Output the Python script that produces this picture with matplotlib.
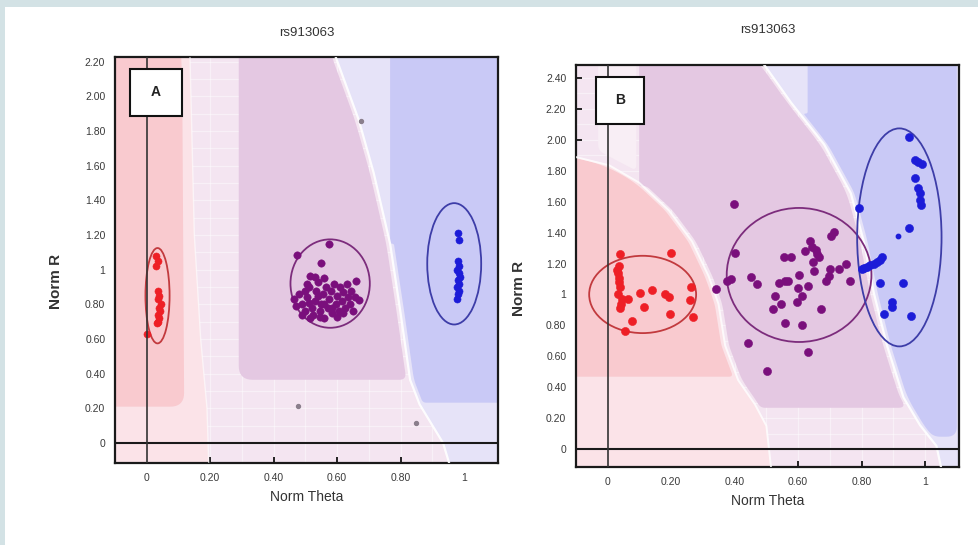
import numpy as np
import matplotlib.pyplot as plt
from matplotlib.patches import Ellipse, Polygon, Rectangle

# ---- data ----
title = "rs913063"

# panel A
a_red_x = [0.030, 0.034, 0.028, 0.036, 0.040, 0.035, 0.044, 0.038, 0.041, 0.036, 0.040, 0.035, 0.032, 0.002]
a_red_y = [1.08, 1.05, 1.02, 0.88, 0.85, 0.83, 0.80, 0.78, 0.76, 0.74, 0.72, 0.70, 0.69, 0.63]

a_pur_x = [0.474, 0.575, 0.549, 0.660, 0.668, 0.465, 0.480, 0.490, 0.500, 0.505, 0.510, 0.516,
           0.520, 0.525, 0.530, 0.535, 0.540, 0.545, 0.550, 0.555, 0.560, 0.565, 0.570, 0.575,
           0.580, 0.585, 0.590, 0.595, 0.600, 0.605, 0.610, 0.615, 0.620, 0.625, 0.630, 0.635,
           0.640, 0.645, 0.650, 0.655, 0.500, 0.530, 0.560, 0.490, 0.515, 0.545, 0.470, 0.600,
           0.585, 0.510, 0.620, 0.560, 0.540, 0.505]
a_pur_y = [1.084, 1.150, 1.036, 0.937, 0.828, 0.830, 0.860, 0.800, 0.760, 0.840, 0.900, 0.966,
           0.780, 0.740, 0.820, 0.880, 0.930, 0.760, 0.800, 0.860, 0.720, 0.900, 0.780, 0.830,
           0.880, 0.750, 0.920, 0.800, 0.850, 0.760, 0.900, 0.820, 0.870, 0.780, 0.920, 0.840,
           0.800, 0.880, 0.760, 0.840, 0.880, 0.960, 0.950, 0.740, 0.720, 0.730, 0.790, 0.730,
           0.780, 0.810, 0.750, 0.800, 0.850, 0.920]

a_blu_x = [0.982, 0.984, 0.980, 0.985, 0.978, 0.983, 0.986, 0.980, 0.984, 0.979, 0.983, 0.981, 0.978]
a_blu_y = [1.21, 1.17, 1.05, 1.02, 1.00, 0.98, 0.96, 0.94, 0.92, 0.90, 0.88, 0.86, 0.83]

a_grey_x = [0.676, 0.478, 0.848]
a_grey_y = [1.86, 0.213, 0.113]

# ellipses: centre x, centre y, width, height
a_ell_red = (0.034, 0.85, 0.076, 0.55)
a_ell_pur = (0.578, 0.92, 0.250, 0.51)
a_ell_blu = (0.969, 1.034, 0.170, 0.70)

# panel B
b_red_x = [0.040, 0.034, 0.031, 0.036, 0.040, 0.033, 0.042, 0.040, 0.063, 0.055, 0.078, 0.101,
           0.115, 0.138, 0.198, 0.180, 0.193, 0.196, 0.263, 0.260, 0.269, 0.030, 0.035, 0.045]
b_red_y = [1.263, 1.185, 1.140, 1.107, 1.050, 1.006, 0.939, 0.910, 0.972, 0.766, 0.827, 1.010,
           0.916, 1.028, 1.268, 1.006, 0.983, 0.871, 1.050, 0.961, 0.853, 1.160, 1.080, 0.970]

b_pur_x = [0.342, 0.375, 0.389, 0.401, 0.398, 0.451, 0.471, 0.441, 0.502, 0.521, 0.526, 0.545,
           0.539, 0.559, 0.557, 0.578, 0.559, 0.604, 0.597, 0.613, 0.613, 0.630, 0.632, 0.623,
           0.639, 0.646, 0.649, 0.656, 0.667, 0.672, 0.688, 0.696, 0.701, 0.703, 0.714, 0.729,
           0.750, 0.764, 0.645, 0.660, 0.568, 0.600]
b_pur_y = [1.033, 1.084, 1.100, 1.268, 1.588, 1.111, 1.066, 0.686, 0.502, 0.909, 0.988, 0.939,
           1.077, 1.084, 1.241, 1.241, 0.815, 1.125, 0.954, 0.988, 0.804, 1.055, 0.629, 1.279,
           1.346, 1.207, 1.151, 1.286, 1.241, 0.905, 1.089, 1.118, 1.163, 1.375, 1.405, 1.163,
           1.200, 1.084, 1.310, 1.260, 1.090, 1.040]

b_blu_x = [0.792, 0.800, 0.807, 0.818, 0.828, 0.839, 0.849, 0.859, 0.865, 0.859, 0.870, 0.896,
           0.896, 0.929, 0.948, 0.956, 0.948, 0.969, 0.979, 0.990, 0.967, 0.979, 0.984, 0.984,
           0.988]
b_blu_y = [1.559, 1.167, 1.174, 1.180, 1.190, 1.196, 1.207, 1.225, 1.241, 1.073, 0.871, 0.950,
           0.916, 1.073, 1.431, 0.860, 2.020, 1.868, 1.857, 1.846, 1.756, 1.689, 1.655, 1.610,
           1.577]
b_small_x = [0.915]
b_small_y = [1.375]

b_ell_red = (0.110, 1.000, 0.337, 0.50)
b_ell_pur = (0.603, 1.126, 0.456, 0.867)
b_ell_blu = (0.919, 1.369, 0.266, 1.41)

a_yticks = [0, 0.2, 0.4, 0.6, 0.8, 1.0, 1.2, 1.4, 1.6, 1.8, 2.0, 2.2]
b_yticks = [0, 0.2, 0.4, 0.6, 0.8, 1.0, 1.2, 1.4, 1.6, 1.8, 2.0, 2.2, 2.4]
xticks = [0, 0.2, 0.4, 0.6, 0.8, 1.0]

# ---- colours ----
c_bg = '#f4e5f1'
c_pinkzone = '#fbe3e8'
c_bluezone = '#e6e3f8'
c_redreg = '#f9cacf'
c_purreg = '#e4c8e2'
c_blureg = '#c9c9f6'
c_red, c_pur, c_blu = '#ee1f26', '#7a0f7c', '#1c1cd8'
e_red, e_pur, e_blu = '#c23a3e', '#7c2c7c', '#3d3da8'


def lab(v):
    if v == 0:
        return '0'
    if v == 1:
        return '1'
    return f'{v:.2f}'


def rounded(ax, verts, r=9, n=10):
    # round polygon corners in pixel space
    P = ax.transData.transform(np.asarray(verts, float))
    out = []
    m = len(P)
    for i in range(m):
        p0, p1, p2 = P[i - 1], P[i], P[(i + 1) % m]
        d1, d2 = p0 - p1, p2 - p1
        l1, l2 = np.hypot(*d1), np.hypot(*d2)
        if l1 == 0 or l2 == 0:
            continue
        t = min(r, l1 / 2, l2 / 2)
        a = p1 + d1 / l1 * t
        b = p1 + d2 / l2 * t
        s = np.linspace(0, 1, n)[:, None]
        out.extend((1 - s) ** 2 * a + 2 * (1 - s) * s * p1 + s ** 2 * b)
    return ax.transData.inverted().transform(np.array(out))


def curve_x(curve, y):
    # curves are listed with y increasing
    c = np.array(curve)
    return np.interp(y, c[:, 1], c[:, 0])


def setup(ax, yticks, ylim):
    ax.set_xlim(-0.0975, 1.107)
    ax.set_ylim(*ylim)
    ax.set_facecolor(c_bg)
    ax.set_xticks(xticks)
    ax.set_xticklabels([lab(v) for v in xticks])
    ax.set_yticks(yticks)
    ax.set_yticklabels([lab(v) for v in yticks])
    ax.set_xticks(np.arange(-0.1, 1.11, 0.1), minor=True)
    ax.set_yticks(np.arange(0, ylim[1], 0.1), minor=True)
    ax.tick_params(which='minor', length=0)
    ax.tick_params(which='major', direction='in', length=4, width=1.2,
                   labelsize=7.5, labelcolor='#3a3a3a', pad=7)
    ax.grid(which='both', color='white', linewidth=0.9, alpha=0.45, zorder=0)
    ax.set_axisbelow(True)
    for s in ax.spines.values():
        s.set_linewidth(1.6)
        s.set_color('#1a1a1a')
    ax.axhline(0, color='#1a1a1a', lw=1.5, zorder=6)
    ax.axvline(0, color='#333333', lw=1.2, zorder=6)
    ax.set_xlabel('Norm Theta', fontsize=10, color='#333333', labelpad=5)
    ax.set_ylabel('Norm R', fontsize=11, fontweight='bold', color='#333333')


def scatter(ax, x, y, c, s=26):
    ax.scatter(x, y, s=s, c=c, edgecolors=c, linewidths=0.4, zorder=5)


def ellipse(ax, e, c):
    ax.add_patch(Ellipse((e[0], e[1]), e[2], e[3], fill=False, ec=c, lw=1.3, zorder=4))


def letter_box(fig, x0, y0, x1, y1, t):
    W, H = 979, 545
    fig.add_artist(Rectangle((x0 / W, 1 - y1 / H), (x1 - x0) / W, (y1 - y0) / H,
                             transform=fig.transFigure, facecolor='white',
                             edgecolor='#111111', lw=1.5, zorder=10))
    fig.text((x0 + x1) / 2 / W, 1 - (y0 + y1) / 2 / H, t, ha='center', va='center',
             fontsize=10, fontweight='bold', color='#222222', zorder=11)


plt.rcParams['font.family'] = ['Liberation Sans', 'DejaVu Sans']
fig = plt.figure(figsize=(9.79, 5.45), dpi=100)
fig.patch.set_facecolor('#d3e2e5')
fig.add_artist(Rectangle((5 / 979, 0), 1, 1 - 7 / 545, transform=fig.transFigure,
                         facecolor='white', edgecolor='none', zorder=0))
top, bot = 2.7, -0.4

# ---------------- panel A ----------------
axA = fig.add_axes([115 / 979, 1 - 463 / 545, 383 / 979, 406 / 545])
setup(axA, a_yticks, (-0.115, 2.227))

curveA1 = [(0.20, -0.4), (0.19, 0.2), (0.17, 0.6), (0.15, 1.2), (0.13, 2.7)]
curveA2 = [(1.00, -0.4), (0.934, 0.0), (0.86, 0.223), (0.83, 0.365), (0.80, 0.75),
           (0.767, 1.15), (0.715, 1.56), (0.668, 1.865), (0.595, 2.23), (0.55, 2.7)]
c1 = np.array(curveA1)
c2 = np.array(curveA2)
axA.add_patch(Polygon([(-0.3, bot)] + curveA1 + [(-0.3, top)], closed=True,
                      fc=c_pinkzone, ec='none', zorder=1))
axA.add_patch(Polygon([(1.3, bot)] + curveA2 + [(1.3, top)], closed=True,
                      fc=c_bluezone, ec='none', zorder=1))

# red region
verts = [(-0.3, 0.21), (0.118, 0.21), (0.112, 2.05), (0.10, top), (-0.3, top)]
axA.add_patch(Polygon(rounded(axA, verts, r=14), closed=True, fc=c_redreg, ec='none', zorder=2))
# purple region
yb = 0.365
ys = np.linspace(yb, top, 30)
right = [(curve_x(curveA2, y) - 0.012, y) for y in ys]
verts = [(0.29, top), (0.29, yb)] + right
axA.add_patch(Polygon(rounded(axA, verts, r=14), closed=True, fc=c_purreg, ec='none', zorder=2))
# blue region
yb = 0.233
ys = np.linspace(1.15, yb, 25)
left = [(curve_x(curveA2, y) + 0.012, y) for y in ys]
verts = [(0.767, top), (0.767, 1.15)] + left + [(1.3, yb), (1.3, top)]
axA.add_patch(Polygon(rounded(axA, verts, r=14), closed=True, fc=c_blureg, ec='none', zorder=2))
axA.plot(c2[:, 0], c2[:, 1], color='white', lw=1.6, alpha=0.9, zorder=3)
axA.plot(c1[:, 0], c1[:, 1], color='white', lw=1.0, alpha=0.6, zorder=3)

ellipse(axA, a_ell_red, e_red)
ellipse(axA, a_ell_pur, e_pur)
ellipse(axA, a_ell_blu, e_blu)
scatter(axA, a_red_x, a_red_y, c_red, 26)
scatter(axA, a_pur_x, a_pur_y, c_pur, 28)
scatter(axA, a_blu_x, a_blu_y, c_blu, 26)
axA.scatter(a_grey_x, a_grey_y, s=8, c='#8a7f8c', zorder=5)
axA.yaxis.set_label_coords(-0.136, 0.448)
fig.text(306.5 / 979, 1 - 33 / 545, title, ha='center', va='center', fontsize=9.5, color='#333333')

# ---------------- panel B ----------------
axB = fig.add_axes([576 / 979, 1 - 467 / 545, 383 / 979, 402 / 545])
setup(axB, b_yticks, (-0.116, 2.484))

curveB1 = [(0.53, -0.4), (0.50, 0.15), (0.464, 0.289), (0.411, 0.446), (0.37, 0.67),
           (0.349, 0.939), (0.318, 1.118), (0.266, 1.342), (0.193, 1.543), (0.099, 1.723),
           (0.005, 1.835), (-0.3, 1.99)]
curveB2 = [(1.08, -0.4), (1.036, 0.02), (0.984, 0.155), (0.932, 0.334), (0.88, 0.67),
           (0.839, 1.006), (0.807, 1.342), (0.766, 1.655), (0.682, 1.97), (0.578, 2.24),
           (0.495, 2.48), (0.40, 2.7)]
cb1 = np.array(curveB1)
cb2 = np.array(curveB2)
axB.add_patch(Polygon([(-0.3, bot)] + curveB1, closed=True,
                      fc=c_pinkzone, ec='none', zorder=1))
axB.add_patch(Polygon([(1.3, bot)] + curveB2 + [(1.3, top)], closed=True,
                      fc=c_bluezone, ec='none', zorder=1))
# lighter patch in the upper left corner
axB.add_patch(Polygon(rounded(axB, [(-0.03, 1.93), (0.09, 1.80), (0.09, 2.7), (-0.03, 2.7)], r=6),
                      closed=True, fc='#f8eef5', ec='none', zorder=1))

# red region
yb = 0.468
ys = np.linspace(1.95, yb, 30)
edge = [(curve_x(curveB1, y) - 0.012, y) for y in ys]
verts = [(-0.3, 1.99)] + edge + [(-0.3, yb)]
axB.add_patch(Polygon(rounded(axB, verts, r=14), closed=True, fc=c_redreg, ec='none', zorder=2))
# purple region
yb = 0.267
ys = np.linspace(1.70, yb, 30)
leftedge = [(curve_x(curveB1, y) + 0.012, y) for y in ys]
ys2 = np.linspace(yb, top, 30)
rightedge = [(curve_x(curveB2, y) - 0.012, y) for y in ys2]
verts = [(0.099, top), (0.099, 1.70)] + leftedge + rightedge
axB.add_patch(Polygon(rounded(axB, verts, r=14), closed=True, fc=c_purreg, ec='none', zorder=2))
# blue region
yb = 0.08
ys = np.linspace(2.17, yb, 30)
edge = [(curve_x(curveB2, y) + 0.012, y) for y in ys]
verts = [(0.63, top), (0.63, 2.17)] + edge + [(1.10, yb), (1.10, top)]
axB.add_patch(Polygon(rounded(axB, verts, r=10), closed=True, fc=c_blureg, ec='none', zorder=2))
axB.plot(cb1[:, 0], cb1[:, 1], color='white', lw=1.4, alpha=0.8, zorder=3)
axB.plot(cb2[:, 0], cb2[:, 1], color='white', lw=1.6, alpha=0.9, zorder=3)

ellipse(axB, b_ell_red, e_red)
ellipse(axB, b_ell_pur, e_pur)
ellipse(axB, b_ell_blu, e_blu)
scatter(axB, b_red_x, b_red_y, c_red, 34)
scatter(axB, b_pur_x, b_pur_y, c_pur, 34)
scatter(axB, b_blu_x, b_blu_y, c_blu, 34)
axB.scatter(b_small_x, b_small_y, s=10, c=c_blu, zorder=5)
axB.yaxis.set_label_coords(-0.13, 0.443)
fig.text(767.5 / 979, 1 - 30 / 545, title, ha='center', va='center', fontsize=9.5, color='#333333')

letter_box(fig, 130, 69, 182, 116, 'A')
letter_box(fig, 596, 77, 644, 124, 'B')

fig.savefig('out.png', dpi=100, facecolor=fig.get_facecolor())
